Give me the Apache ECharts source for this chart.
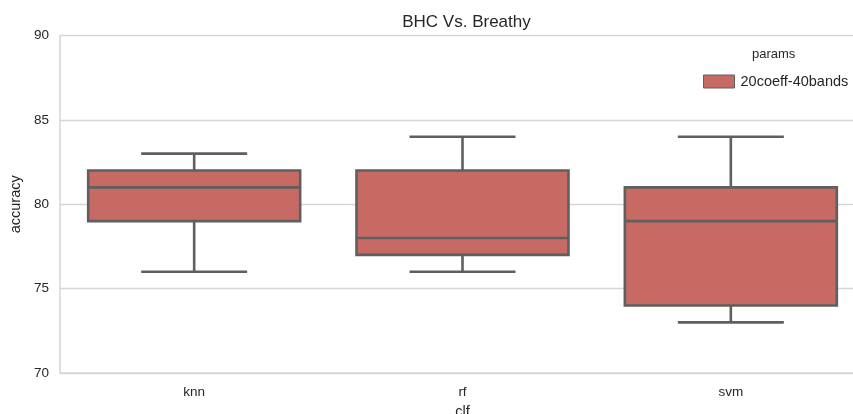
<!DOCTYPE html>
<html>
<head>
<meta charset="utf-8">
<script src="https://cdn.jsdelivr.net/npm/echarts@6/dist/echarts.min.js"></script>
<style>
  html, body { margin: 0; padding: 0; background: #fff; }
  #chart { width: 853px; height: 414px; }
</style>
</head>
<body>
<div id="chart"></div>
<script>
// Classifier accuracy distributions for one feature set
const categories = ['knn', 'rf', 'svm'];
// [min, Q1, median, Q3, max]
const knnBox = [76, 79, 81, 82, 83];
const rfBox  = [76, 77, 78, 82, 84];
const svmBox = [73, 74, 79, 81, 84];
const yTicks = [70, 75, 80, 85, 90];
const seriesName = '20coeff-40bands';

const FONT = '"Liberation Sans", Arial, sans-serif';
const TEXT = '#262626';
const GRID = '#d6d6d6';
const FILL = '#c86a64';
const EDGE = '#5f5f5f';
const LW = 2.6;

const boxRows = [knnBox, rfBox, svmBox].map((b, i) => [i].concat(b));

// box, median line, whiskers and half-width caps
function renderBox(params, api) {
  const x = api.value(0);
  const band = api.size([1, 0])[0];
  const half = band * 0.395;
  const cap = half / 2;
  const pMin = api.coord([x, api.value(1)]);
  const pQ1 = api.coord([x, api.value(2)]);
  const pMed = api.coord([x, api.value(3)]);
  const pQ3 = api.coord([x, api.value(4)]);
  const pMax = api.coord([x, api.value(5)]);
  const cx = pMed[0];
  const line = { stroke: EDGE, lineWidth: LW, fill: null };
  return {
    type: 'group',
    children: [
      { type: 'line', shape: { x1: cx, y1: pQ3[1], x2: cx, y2: pMax[1] }, style: line },
      { type: 'line', shape: { x1: cx, y1: pQ1[1], x2: cx, y2: pMin[1] }, style: line },
      { type: 'line', shape: { x1: cx - cap, y1: pMax[1], x2: cx + cap, y2: pMax[1] }, style: line },
      { type: 'line', shape: { x1: cx - cap, y1: pMin[1], x2: cx + cap, y2: pMin[1] }, style: line },
      { type: 'rect', shape: { x: cx - half, y: pQ3[1], width: 2 * half, height: pQ1[1] - pQ3[1] },
        style: { fill: FILL, stroke: EDGE, lineWidth: LW } },
      { type: 'line', shape: { x1: cx - half, y1: pMed[1], x2: cx + half, y2: pMed[1] }, style: line }
    ]
  };
}

const chart = echarts.init(document.getElementById('chart'));
chart.setOption({
  animation: false,
  backgroundColor: '#ffffff',
  title: {
    text: 'BHC Vs. Breathy',
    left: 461.5, top: 9, textAlign: 'center',
    textStyle: { fontFamily: FONT, fontSize: 17, fontWeight: 'normal', color: TEXT }
  },
  grid: { left: 60, top: 35.5, width: 805, height: 337.5, outerBoundsMode: 'none', containLabel: false },
  legend: {
    data: [{ name: seriesName, icon: 'rect',
             itemStyle: { color: FILL, borderColor: EDGE, borderWidth: 1 } }],
    left: 698, top: 69,
    itemWidth: 31, itemHeight: 13, itemGap: 6,
    textStyle: { fontFamily: FONT, fontSize: 14.5, color: TEXT, padding: [0, 0, 0, 1] }
  },
  graphic: [{
    type: 'text', left: 752, top: 48,
    style: { text: 'params', fontFamily: FONT, fontSize: 13, fill: TEXT }
  }],
  xAxis: {
    type: 'category',
    data: categories,
    boundaryGap: true,
    name: 'clf', nameLocation: 'middle', nameGap: 31,
    nameTextStyle: { fontFamily: FONT, fontSize: 14.5, color: TEXT },
    axisLine: { show: true, lineStyle: { color: GRID, width: 1.5 } },
    axisTick: { show: false },
    axisLabel: { fontFamily: FONT, fontSize: 13.5, color: TEXT, margin: 12 },
    splitLine: { show: false }
  },
  yAxis: {
    type: 'value',
    min: yTicks[0], max: yTicks[yTicks.length - 1], interval: 5,
    name: 'accuracy', nameLocation: 'middle', nameGap: 35, nameRotate: 90,
    nameTextStyle: { fontFamily: FONT, fontSize: 14.5, color: TEXT },
    axisLine: { show: true, lineStyle: { color: GRID, width: 1.5 } },
    axisTick: { show: false },
    axisLabel: { fontFamily: FONT, fontSize: 13.5, color: TEXT, margin: 11 },
    splitLine: { show: true, lineStyle: { color: GRID, width: 1.3 } }
  },
  series: [{
    name: seriesName,
    type: 'custom',
    renderItem: renderBox,
    encode: { x: 0, y: [1, 2, 3, 4, 5] },
    itemStyle: { color: FILL, borderColor: EDGE },
    data: boxRows
  }]
});
</script>
</body>
</html>
